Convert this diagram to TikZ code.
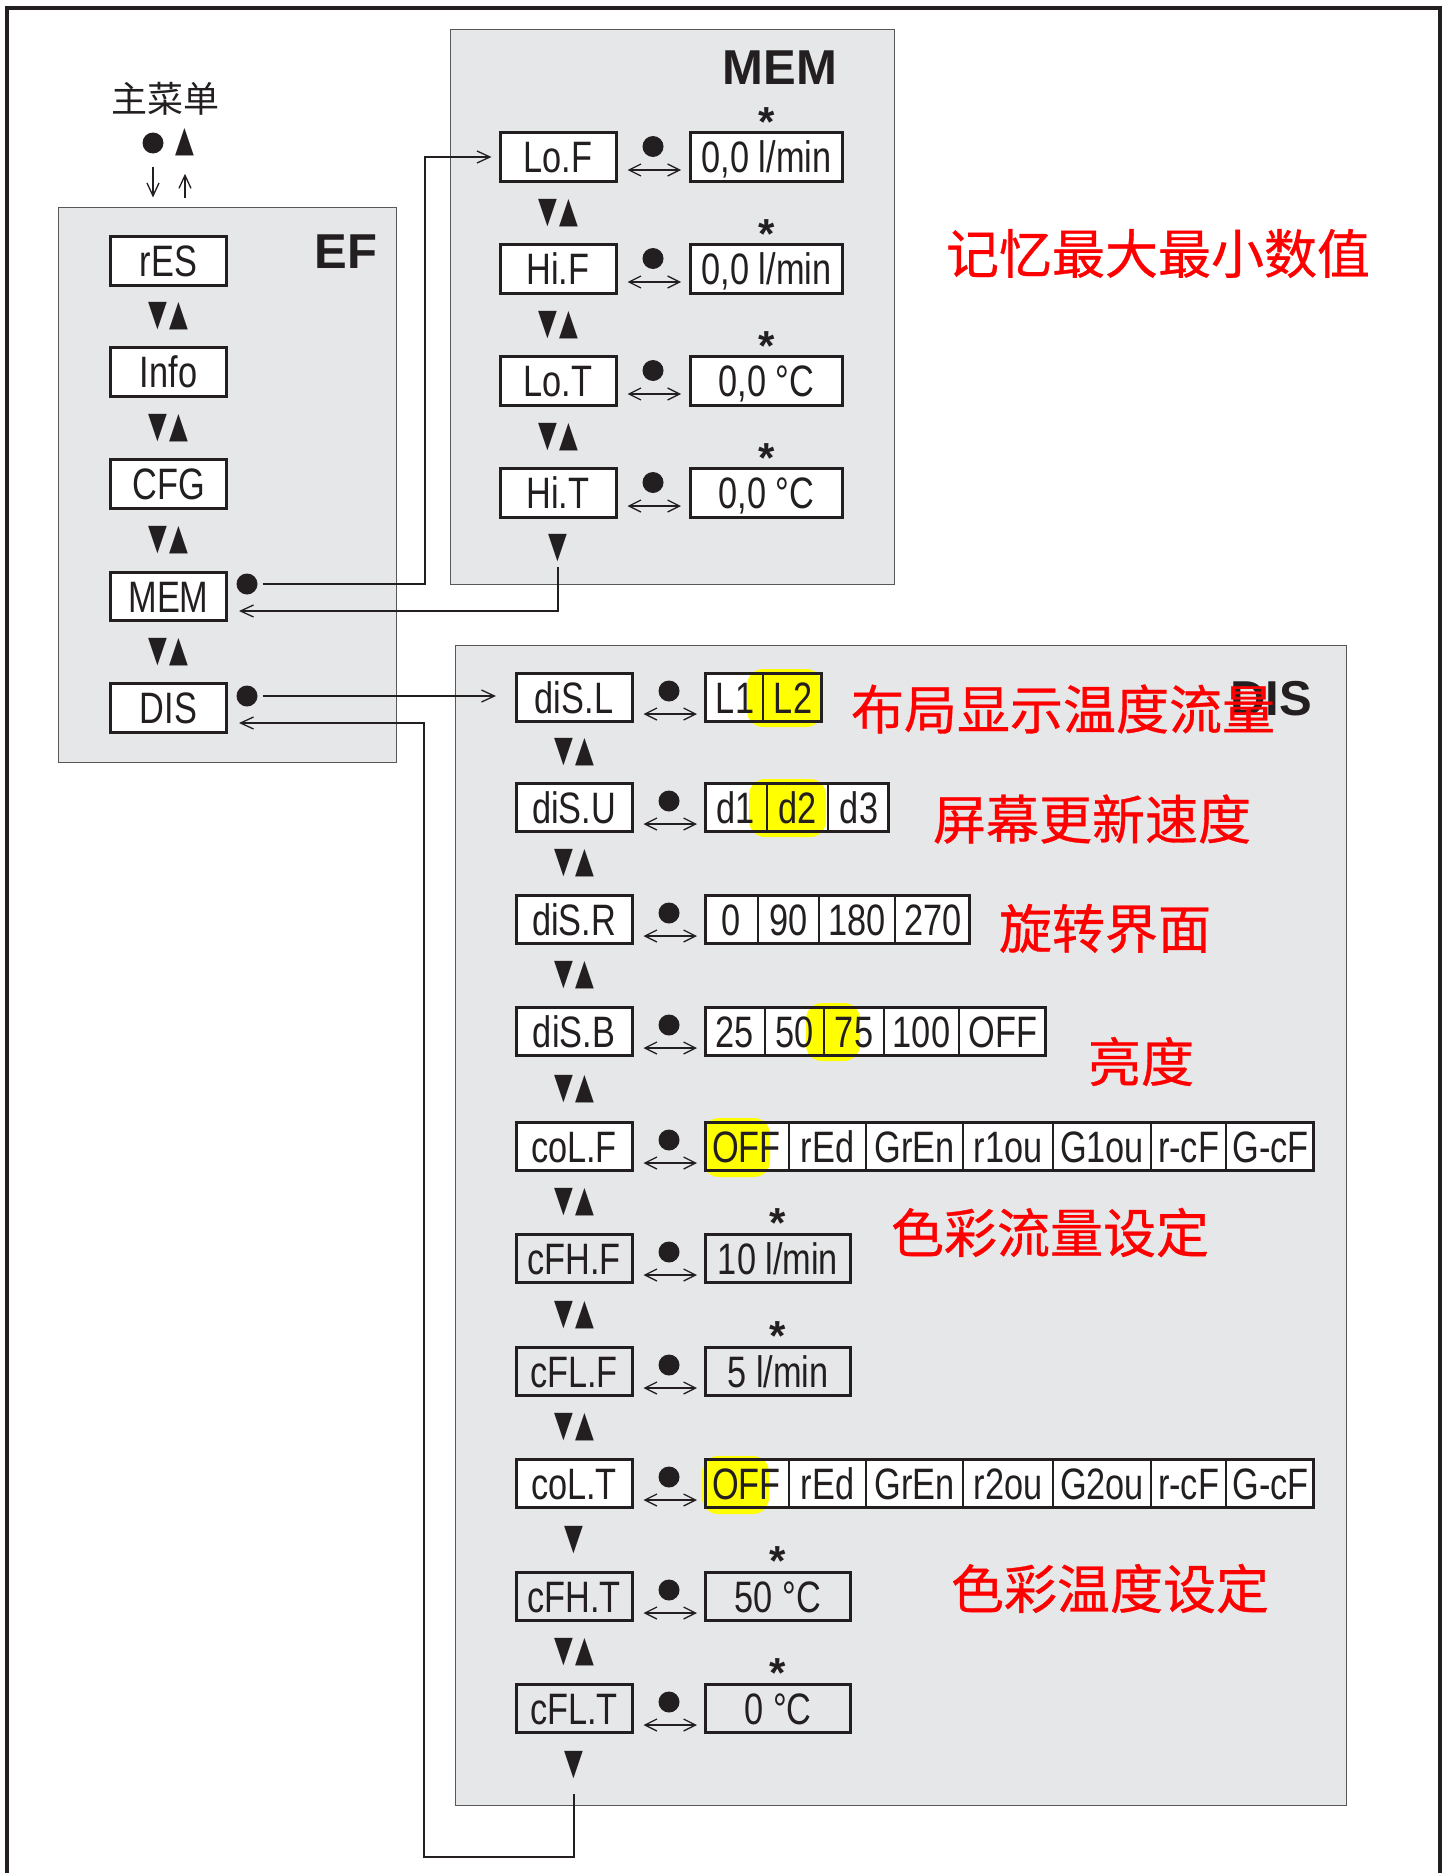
\documentclass[tikz,border=0pt]{standalone}
\usepackage{fontspec}
\usetikzlibrary{arrows.meta,calc}
\setmainfont{Liberation Sans}
\newfontfamily\boxf{Liberation Sans}[FakeStretch=0.78]
\newfontfamily\cjkf{Noto Sans CJK SC}
\newfontfamily\cjkred{Noto Sans CJK SC}[FakeBold=0.6]
\newfontfamily\symf{DejaVu Sans}
\definecolor{ink}{HTML}{231F20}
\definecolor{panelgray}{HTML}{E6E7E8}
\definecolor{hl}{HTML}{FFFF00}
\definecolor{redtxt}{HTML}{FF0000}
\newcommand\dnup{\scalebox{0.68}[1]{▼}\kern2pt\scalebox{0.68}[1]{▲}}
\newcommand\dnT{\scalebox{0.68}[1]{▼}}
\newcommand\upT{\scalebox{0.68}[1]{▲}}
\newcommand\starsym{\raisebox{-16.5pt}[13.5pt][0pt]{*}}
\tikzset{
 every node/.style={inner sep=0pt,outer sep=0pt},
 frame/.style={draw=ink,line width=3.2pt},
 panel/.style={draw=ink!75,line width=1.4pt,fill=panelgray},
 title/.style={font=\bfseries\fontsize{49}{55}\selectfont,text=ink,anchor=base east},
 lbl/.style={font=\boxf\fontsize{44}{50}\selectfont,text=ink,text height=31.5pt,text depth=0pt},
 lbox/.style={lbl,draw=ink,line width=3pt,fill=white,minimum width=116pt,minimum height=48.5pt},
 nofill/.style={fill=none},
 vfill/.style={fill=white,minimum height=48.5pt},
 boxline/.style={draw=ink,line width=3pt},
 cellsep/.style={draw=ink,line width=1.6pt},
 dotn/.style={circle,fill=ink,minimum size=21pt},
 sym/.style={font=\symf\fontsize{36}{40}\selectfont,text=ink},
 starn/.style={font=\bfseries\fontsize{42}{46}\selectfont,text=ink,anchor=south},
 conn/.style={draw=ink,line width=1.3pt},
 arr/.style={->,>={Straight Barb[length=13pt,width=12pt]}},
 dbl/.style={<->,>={Straight Barb[length=12pt,width=12pt]}},
 redlab/.style={font=\cjkred\fontsize{53}{60}\selectfont,text=redtxt,anchor=west},
 hlf/.style={fill=hl,rounded corners=16pt},
}
% MEM row: name, y, label, value
\newcommand\memrow[4]{%
 \node[lbox] (#1) at (558,#2) {#3};
 \node[lbox,minimum width=152pt] (#1v) at (766.5,#2) {#4};
 \node[starn] (#1s) at ($(#1v.north)+(0,-13)$) {\starsym};
 \node[dotn] (#1d) at (653,#2-10.5) {};
 \draw[conn,dbl] ($(#1.east)+(11.5,13)$) -- ($(#1v.west)+(-9.5,13)$);
}
% DIS row with single value: name, y, label, value
\newcommand\disone[4]{%
 \node[lbox,nofill] (#1) at (574,#2) {#3};
 \node[dotn] (#1d) at (669,#2-6.5) {};
 \node[lbox,nofill,minimum width=145pt] (#1v) at (778,#2) {#4};
 \node[starn] (#1s) at ($(#1v.north)+(0,-13)$) {\starsym};
 \draw[conn,dbl] ($(#1.east)+(11.5,16.5)$) -- ($(#1v.west)+(-8.5,16.5)$);
}
% DIS row left part: name, y, label
\newcommand\disleft[3]{%
 \node[lbox] (#1) at (574,#2) {#3};
 \node[dotn] (#1d) at (669,#2-6.5) {};
}
\newcommand\sepat[2]{\draw[cellsep] (#1,#2-24) -- (#1,#2+24);}
\newcommand\dblto[2]{\draw[conn,dbl] ($(#1.east)+(11.5,16.5)$) -- ($(#2.west)+(-8.5,16.5)$);}
\begin{document}
\begin{tikzpicture}[x=1pt,y=-1pt]
\useasboundingbox (0,0) rectangle (1450,1873);
\fill[white] (0,0) rectangle (1450,1873);
\draw[frame] (7,1873) -- (7,8) -- (1440,8) -- (1440,1873);

% panels
\node[panel,minimum width=338pt,minimum height=555pt] (efp) at (227.5,485) {};
\node[panel,minimum width=444pt,minimum height=555pt] (memp) at (672.5,307) {};
\node[panel,minimum width=891pt,minimum height=1160pt] (disp) at (901,1225.5) {};
\node[title] (eft) at (377,268) {EF};
\node[title] (memt) at (837,85) {MEM};
\node[title] (dist) at (1312,715) {DIS};

% main menu
\node[font=\cjkf\fontsize{36}{40}\selectfont,text=ink] (mm) at (165,99) {主菜单};
\node[dotn] (mmdot) at (153,143) {};
\node[sym] (mmup) at (185,142) {\upT};
\draw[conn,arr] ($(mmdot.south)+(0,13)$) -- ($(mmdot.south |- efp.north)+(0,-10)$);
\draw[conn,arr] ($(mmup.south |- efp.north)+(0,-10)$) -- ($(mmup.south)+(0,18)$);

% EF column
\node[lbox] (res) at (168.5,261) {rES};
\node[sym] (ef1) at (168.5,316.5) {\dnup};
\node[lbox] (info) at (168.5,372) {Info};
\node[sym] (ef2) at (168.5,428) {\dnup};
\node[lbox] (cfg) at (168.5,484) {CFG};
\node[sym] (ef3) at (168.5,540) {\dnup};
\node[lbox] (memb) at (168.5,596.5) {MEM};
\node[sym] (ef4) at (168.5,652) {\dnup};
\node[lbox] (disb) at (168.5,708) {DIS};
\node[dotn] (memdot) at (247,584) {};
\node[dotn] (disdot) at (247,696) {};

% MEM panel
\memrow{lof}{157}{Lo.F}{0,0 l/min}
\node[sym] (m1) at (558,213) {\dnup};
\memrow{hif}{269}{Hi.F}{0,0 l/min}
\node[sym] (m2) at (558,325) {\dnup};
\memrow{lot}{381}{Lo.T}{0,0 °C}
\node[sym] (m3) at (558,437) {\dnup};
\memrow{hit}{493}{Hi.T}{0,0 °C}
\node[sym] (m4) at (558,548) {\dnT};
\coordinate (memret) at (558,567);
\coordinate (busm) at (425,0);

% DIS row 1
\disleft{disl}{697.5}{diS.L}
\node[vfill,minimum width=116pt] (dislv) at (763.5,697.5) {};
\fill[hlf] (747,669) rectangle (822,727);
\sepat{763}{697.5}
\node[lbl] (disl1) at (735,697.5) {L1};
\node[lbl] (disl2) at (793,697.5) {L2};
\draw[boxline] (dislv.south west) rectangle (dislv.north east);
\dblto{disl}{dislv}
\node[sym] (d1) at (574,752.5) {\dnup};

% DIS row 2
\disleft{disu}{807.5}{diS.U}
\node[vfill,minimum width=183pt] (disuv) at (797,807.5) {};
\fill[hlf] (749,779) rectangle (826,837);
\sepat{767}{807.5}\sepat{828}{807.5}
\node[lbl] (disu1) at (735.5,807.5) {d1};
\node[lbl] (disu2) at (797.5,807.5) {d2};
\node[lbl] (disu3) at (859,807.5) {d3};
\draw[boxline] (disuv.south west) rectangle (disuv.north east);
\dblto{disu}{disuv}
\node[sym] (d2) at (574,863.5) {\dnup};

% DIS row 3
\disleft{disr}{919.5}{diS.R}
\node[vfill,minimum width=264pt] (disrv) at (837.5,919.5) {};
\sepat{758}{919.5}\sepat{819}{919.5}\sepat{895}{919.5}
\node[lbl] (disr1) at (731,919.5) {0};
\node[lbl] (disr2) at (788.5,919.5) {90};
\node[lbl] (disr3) at (857,919.5) {180};
\node[lbl] (disr4) at (933,919.5) {270};
\draw[boxline] (disrv.south west) rectangle (disrv.north east);
\dblto{disr}{disrv}
\node[sym] (d3) at (574,975.5) {\dnup};

% DIS row 4
\disleft{disbr}{1031.5}{diS.B}
\node[vfill,minimum width=340pt] (disbrv) at (875.5,1031.5) {};
\fill[hlf] (806,1003) rectangle (860,1061);
\sepat{765}{1031.5}\sepat{824}{1031.5}\sepat{884}{1031.5}\sepat{959}{1031.5}
\node[lbl] (disb1) at (734.5,1031.5) {25};
\node[lbl] (disb2) at (794.5,1031.5) {50};
\node[lbl] (disb3) at (854,1031.5) {75};
\node[lbl] (disb4) at (921.5,1031.5) {100};
\node[lbl] (disb5) at (1003,1031.5) {OFF};
\draw[boxline] (disbrv.south west) rectangle (disbrv.north east);
\dblto{disbr}{disbrv}
\node[sym] (d4) at (574,1089) {\dnup};

% DIS row 5
\disleft{colf}{1146.5}{coL.F}
\node[vfill,minimum width=608pt] (colfv) at (1009.5,1146.5) {};
\fill[hlf] (703,1118) rectangle (770,1177);
\sepat{789}{1146.5}\sepat{866}{1146.5}\sepat{963}{1146.5}\sepat{1053}{1146.5}\sepat{1151}{1146.5}\sepat{1226}{1146.5}
\node[lbl] (colf1) at (746.5,1146.5) {OFF};
\node[lbl] (colf2) at (827.5,1146.5) {rEd};
\node[lbl] (colf3) at (914.5,1146.5) {GrEn};
\node[lbl] (colf4) at (1008,1146.5) {r1ou};
\node[lbl] (colf5) at (1102,1146.5) {G1ou};
\node[lbl] (colf6) at (1188.5,1146.5) {r-cF};
\node[lbl] (colf7) at (1270.5,1146.5) {G-cF};
\draw[boxline] (colfv.south west) rectangle (colfv.north east);
\dblto{colf}{colfv}
\node[sym] (d5) at (574,1202.5) {\dnup};

% DIS rows 6,7
\disone{cfhf}{1258.5}{cFH.F}{10 l/min}
\node[sym] (d6) at (574,1315) {\dnup};
\disone{cflf}{1371.5}{cFL.F}{5 l/min}
\node[sym] (d7) at (574,1427.5) {\dnup};

% DIS row 8
\disleft{colt}{1483.5}{coL.T}
\node[vfill,minimum width=608pt] (coltv) at (1009.5,1483.5) {};
\fill[hlf] (702,1456) rectangle (769,1514);
\sepat{789}{1483.5}\sepat{866}{1483.5}\sepat{963}{1483.5}\sepat{1053}{1483.5}\sepat{1151}{1483.5}\sepat{1226}{1483.5}
\node[lbl] (colt1) at (746.5,1483.5) {OFF};
\node[lbl] (colt2) at (827.5,1483.5) {rEd};
\node[lbl] (colt3) at (914.5,1483.5) {GrEn};
\node[lbl] (colt4) at (1008,1483.5) {r2ou};
\node[lbl] (colt5) at (1102,1483.5) {G2ou};
\node[lbl] (colt6) at (1188.5,1483.5) {r-cF};
\node[lbl] (colt7) at (1270.5,1483.5) {G-cF};
\draw[boxline] (coltv.south west) rectangle (coltv.north east);
\dblto{colt}{coltv}
\node[sym] (d8) at (574,1540) {\dnT};

% DIS rows 9,10
\disone{cfht}{1596.5}{cFH.T}{50 °C}
\node[sym] (d9) at (574,1652.5) {\dnup};
\disone{cflt}{1708.5}{cFL.T}{0 °C}
\node[sym] (d10) at (574,1765) {\dnT};
\coordinate (disret) at (574,1794);
\coordinate (loopbl) at (424,1857);

% connectors
\draw[conn,arr] ($(memdot.east)+(5,0)$) -- (memdot.east -| busm) |- ($(lof.west)+(-8.5,0)$);
\draw[conn,arr] (memret) |- ($(memb.east)+(12.5,14.5)$);
\draw[conn,arr] ($(disdot.east)+(5,0)$) -- ($(disl.west |- disdot.east)+(-20,0)$);
\draw[conn,arr] (disret) |- (loopbl) |- ($(disb.east)+(12.5,15)$);

% red labels
\node[redlab] (r1) at (946,253.5) {记忆最大最小数值};
\node[redlab] (r2) at (851,709) {布局显示温度流量};
\node[redlab] (r3) at (933,819) {屏幕更新速度};
\node[redlab] (r4) at (999,928.5) {旋转界面};
\node[redlab] (r5) at (1088,1061.5) {亮度};
\node[redlab] (r6) at (891,1232.5) {色彩流量设定};
\node[redlab] (r7) at (951,1588.5) {色彩温度设定};
\end{tikzpicture}
\end{document}
